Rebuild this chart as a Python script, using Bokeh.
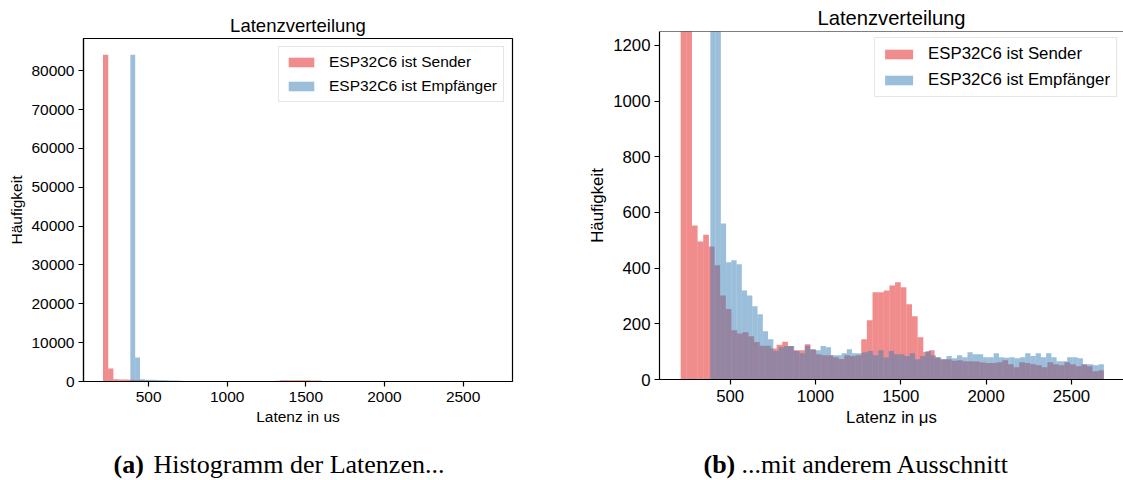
import numpy as np
from bokeh.plotting import figure
from bokeh.models import Range1d, Legend, LegendItem, Span
from bokeh.layouts import column, row
from bokeh.embed import file_html
from bokeh.resources import INLINE
from bokeh.core.properties import value

# ---------------- data ----------------
title_text = "Latenzverteilung"
y_label = "Häufigkeit"
x_label_a = "Latenz in us"
x_label_b = "Latenz in μs"
series_names = ["ESP32C6 ist Sender", "ESP32C6 ist Empfänger"]
series_colors = ["#e41a1c", "#377eb8"]

# histogram bin ranges (75 equal bins each), latency in microseconds
sender_range = [210, 2690]
receiver_range = [384, 2690]

sender_counts = [84100, 3350, 553, 496, 520, 478, 410, 302, 253, 177,
                 165, 170, 155, 135, 121, 121, 111, 125, 136, 120,
                 105, 105, 127, 108, 91, 87, 87, 80, 74, 87,
                 84, 87, 145, 213, 313, 313, 320, 338, 349, 331,
                 270, 227, 152, 99, 105, 79, 73, 73, 67, 69,
                 66, 66, 65, 61, 59, 59, 62, 69, 55, 44,
                 62, 59, 55, 51, 44, 62, 55, 51, 62, 55,
                 48, 54, 48, 30, 33]

receiver_counts = [84100, 6200, 560, 421, 428, 414, 320, 302, 263, 234,
                   173, 145, 103, 116, 120, 120, 102, 94, 121, 109,
                   105, 120, 116, 87, 87, 94, 109, 94, 94, 98,
                   102, 87, 105, 79, 102, 91, 91, 84, 94, 73,
                   84, 102, 87, 80, 73, 84, 76, 87, 80, 98,
                   91, 91, 80, 80, 94, 80, 78, 80, 76, 80,
                   94, 84, 94, 80, 94, 80, 66, 66, 80, 80,
                   76, 55, 55, 51, 55]

x_ticks = [500, 1000, 1500, 2000, 2500]
y_ticks_a = [0, 10000, 20000, 30000, 40000, 50000, 60000, 70000, 80000]
y_ticks_b = [0, 200, 400, 600, 800, 1000, 1200]
x_limits_a = [86, 2814]
x_limits_b = [86, 2805]
y_limits_a = [0, 88300]
y_limits_b = [0, 1250]

caption_a = ["(a)", "Histogramm der Latenzen..."]
caption_b = ["(b)", "...mit anderem Ausschnitt"]

SANS = "Liberation Sans"
SERIF = "Liberation Serif"


def edges_of(rng, counts):
    return np.linspace(rng[0], rng[1], len(counts) + 1)


def make_panel(width, height, borders, xlim, ylim, yticks, xlabel, fs, tfs,
               ylabel_standoff, title_standoff, title_pad, xtick_standoff,
               xlabel_standoff, glyph_w, legend_margin):
    left, right, top, bottom = borders
    p = figure(width=width, height=height, output_backend="svg",
               toolbar_location=None,
               x_range=Range1d(*xlim), y_range=Range1d(*ylim),
               min_border_left=left, min_border_right=right,
               min_border_top=top, min_border_bottom=bottom)
    p.xgrid.visible = False
    p.ygrid.visible = False
    p.background_fill_color = "white"
    p.border_fill_color = "white"

    p.title.text = title_text
    p.title.align = "center"
    p.title.text_font = SANS
    p.title.text_font_size = tfs
    p.title.text_font_style = "normal"
    p.title.text_color = "black"
    p.title.standoff = title_standoff
    try:
        p.title.padding = title_pad
    except Exception:
        pass

    for ax in (p.xaxis[0], p.yaxis[0]):
        ax.major_label_text_font = SANS
        ax.major_label_text_font_size = fs
        ax.major_label_text_color = "black"
        ax.axis_line_color = "black"
        ax.axis_line_width = 1.2
        ax.major_tick_line_color = "black"
        ax.major_tick_line_width = 1.2
        ax.major_tick_out = 5
        ax.major_tick_in = 0
        ax.minor_tick_line_color = None
        ax.axis_label_text_font = SANS
        ax.axis_label_text_font_size = fs
        ax.axis_label_text_font_style = "normal"
        ax.axis_label_text_color = "black"
    p.xaxis[0].ticker = x_ticks
    p.yaxis[0].ticker = yticks
    p.yaxis[0].formatter.use_scientific = False
    p.xaxis[0].major_label_standoff = xtick_standoff
    p.yaxis[0].major_label_standoff = 4
    p.yaxis[0].axis_label = y_label
    p.yaxis[0].axis_label_standoff = ylabel_standoff
    p.xaxis[0].axis_label = xlabel
    p.xaxis[0].axis_label_standoff = xlabel_standoff

    rends = []
    for rng, counts, color in ((sender_range, sender_counts, series_colors[0]),
                               (receiver_range, receiver_counts, series_colors[1])):
        e = edges_of(rng, counts)
        r = p.quad(left=e[:-1], right=e[1:], bottom=0, top=counts,
                   fill_color=color, fill_alpha=0.5, line_color=None)
        rends.append(r)

    legend = Legend(items=[LegendItem(label=series_names[0], renderers=[rends[0]]),
                           LegendItem(label=series_names[1], renderers=[rends[1]])],
                    location="top_right")
    legend.label_text_font = SANS
    legend.label_text_font_size = fs
    legend.label_text_color = "black"
    legend.glyph_width = glyph_w
    legend.glyph_height = 12
    legend.label_height = 18
    legend.label_standoff = 12
    legend.spacing = 6
    legend.padding = 6
    legend.margin = legend_margin
    legend.border_line_color = "#cccccc"
    legend.border_line_width = 1
    legend.background_fill_alpha = 0.85
    p.add_layout(legend)
    return p


p1 = make_panel(580, 430, (83, 68, 38, 49), x_limits_a, y_limits_a, y_ticks_a,
                x_label_a, "15.5px", "18.5px", 3, 0, 3, 5, 3, 32, 8)
p1.outline_line_color = "black"
p1.outline_line_width = 1.2

p2 = make_panel(543, 430, (79, 0, 31, 51), x_limits_b, y_limits_b, y_ticks_b,
                x_label_b, "16.8px", "20.2px", 3, 0, 3, 5, 3, 35, 6)
p2.outline_line_color = None
p2.add_layout(Span(location=y_limits_b[1], dimension="width",
                   line_color="black", line_width=1.2))

cap = figure(width=1123, height=50, output_backend="svg", toolbar_location=None,
             x_range=Range1d(0, 1123), y_range=Range1d(0, 50),
             x_axis_location=None, y_axis_location=None,
             min_border_left=0, min_border_right=0, min_border_top=0, min_border_bottom=0)
try:
    cap.title = None
except Exception:
    pass
cap.outline_line_color = None
cap.xgrid.visible = False
cap.ygrid.visible = False
cap.text(x=[113, 703], y=[16, 16], text=[caption_a[0], caption_b[0]],
         text_font=value(SERIF), text_font_style="bold", text_font_size="26px",
         text_baseline="middle", text_align="left", text_color="black")
cap.text(x=[153, 741], y=[16, 16], text=[caption_a[1], caption_b[1]],
         text_font=value(SERIF), text_font_style="normal", text_font_size="26px",
         text_baseline="middle", text_align="left", text_color="black")

layout = column(row(column(p1), column(p2), spacing=0), cap, spacing=0)
open("out.html", "w").write(file_html(layout, INLINE))
